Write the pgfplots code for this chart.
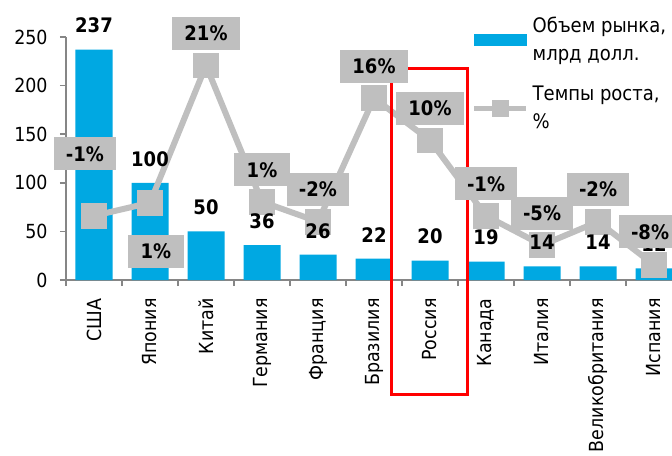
\documentclass[border=0pt]{standalone}
\usepackage{fontspec}
\setmainfont{DejaVu Sans Condensed}
\usepackage{pgfplots}
\pgfplotsset{compat=1.18}
\usepackage{pgfplotstable}
\definecolor{barblue}{RGB}{0,168,226}
\definecolor{boxgray}{RGB}{191,191,191}
\definecolor{axisgray}{RGB}{134,134,134}

\pgfplotstableread{
x val
0 237
1 100
2 50
3 36
4 26
5 22
6 20
7 19
8 14
9 14
10 12
}\marketdata

\pgfplotstableread{
x pct label
0 -1.0 -1
1 0.93 1
2 21.1 21
3 1.07 1
4 -1.86 -2
5 16.3 16
6 10.1 10
7 -1.0 -1
8 -5.3 -5
9 -1.86 -2
10 -8.2 -8
}\growthdata

\pgfplotsset{
  base/.style={at={(0,0)}, anchor=south west, scale only axis,
    width=308pt, height=121.5pt, xmin=-0.5, xmax=10.5, clip=false},
  barscale/.style={ymin=0, ymax=250},
  pctscale/.style={ymin=-10.428571, ymax=25.285714},
  pctlabel/.style={forget plot, draw=none, mark=none, point meta=explicit symbolic,
    nodes near coords={\pgfplotspointmeta\%},
    nodes near coords style={font=\fontsize{10}{12}\selectfont\bfseries, text=black,
      fill=boxgray, anchor=center, inner xsep=6.2pt, inner ysep=2pt, minimum height=16.5pt, #1}},
}

\begin{document}
\begin{tikzpicture}
% bars and axes
\begin{axis}[base, barscale,
  axis x line*=bottom, axis y line*=left,
  axis line style={axisgray, line width=0.75pt, -},
  /pgf/number format/assume math mode=true,
  tick align=outside,
  ytick={0,50,...,250},
  ytick style={axisgray, line width=0.75pt},
  major tick length=3pt, minor tick length=3pt,
  xtick={0,...,10},
  xticklabels={США,Япония,Китай,Германия,Франция,Бразилия,Россия,Канада,Италия,Великобритания,Испания},
  major x tick style={draw=none},
  minor xtick={-0.5,0.5,...,10.5},
  minor x tick style={axisgray, line width=0.75pt},
  ticklabel style={font=\fontsize{9.7}{11}\selectfont},
  xticklabel style={rotate=90, anchor=east, inner sep=0pt},
  xticklabel shift=6pt,
  yticklabel style={anchor=east, inner sep=0pt},
  yticklabel shift=6pt,
]
\addplot[ybar, bar width=18.5pt, fill=barblue, draw=none] table[x=x, y=val]{\marketdata};
\end{axis}
% growth line
\begin{axis}[base, pctscale, hide axis]
\addplot[boxgray, line width=3pt, mark=square*, mark size=4.9pt,
  mark options={draw=none, fill=boxgray}] table[x=x, y=pct]{\growthdata};
\end{axis}
% bar labels
\begin{axis}[base, barscale, hide axis]
\addplot[draw=none, mark=none, point meta=explicit symbolic,
  nodes near coords={\pgfplotspointmeta},
  nodes near coords style={font=\fontsize{10}{12}\selectfont\bfseries, text=black, anchor=center, yshift=12pt}]
  table[x=x, y=val, meta=val]{\marketdata};
\end{axis}
% growth labels, legend, highlight
\begin{axis}[base, pctscale, hide axis,
  legend style={at={(0.658,1.1)}, anchor=north west, draw=none, fill=none,
    inner sep=0pt, font=\fontsize{10}{14}\selectfont, row sep=7pt,
    cells={anchor=west, align=left}},
  legend cell align=left,
]
\addplot[pctlabel={xshift=-4.5pt, yshift=31pt}, restrict x to domain=0:0] table[x=x, y=pct, meta=label]{\growthdata};
\addplot[pctlabel={xshift=3pt, yshift=-24.5pt}, restrict x to domain=1:1] table[x=x, y=pct, meta=label]{\growthdata};
\addplot[pctlabel={yshift=16pt}, restrict x to domain=2:9] table[x=x, y=pct, meta=label]{\growthdata};
\addplot[pctlabel={xshift=-2pt, yshift=16.5pt}, restrict x to domain=10:10] table[x=x, y=pct, meta=label]{\growthdata};
\addlegendimage{legend image code/.code={\fill[barblue] (0pt,-2.75pt) rectangle (26pt,2.75pt);}}
\addlegendentry{Объем рынка,\\млрд долл.}
\addlegendimage{legend image code/.code={\draw[boxgray, line width=2.5pt] (0pt,0pt) -- (26pt,0pt); \fill[boxgray] (9pt,-4pt) rectangle (17pt,4pt);}}
\addlegendentry{Темпы роста,\\\%}
\draw[red, line width=1.5pt] (rel axis cs:0.529,0.872) rectangle (rel axis cs:0.651,-0.472);
\end{axis}
\pgfresetboundingbox
\useasboundingbox (-33pt,-87.5pt) rectangle (303pt,140pt);
\end{tikzpicture}
\end{document}
